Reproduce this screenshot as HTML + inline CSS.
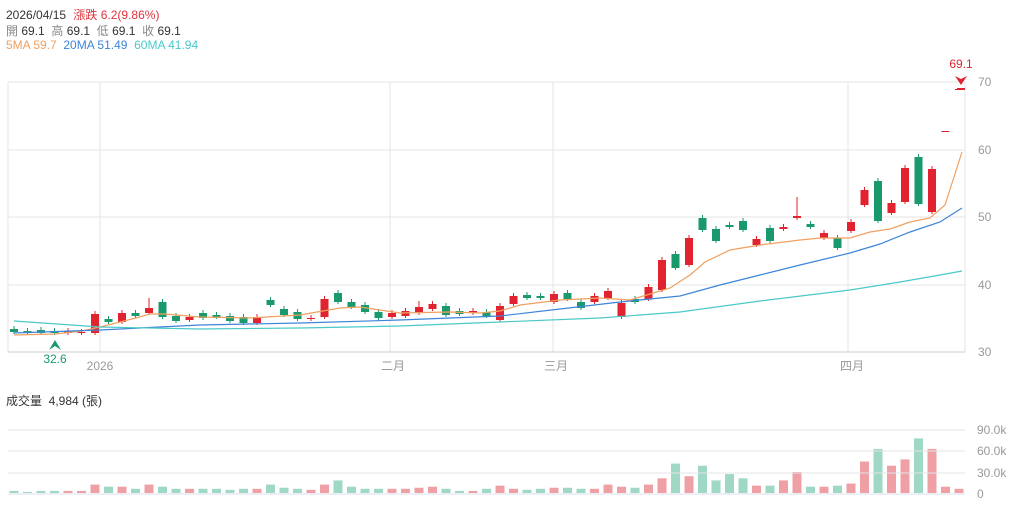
<!DOCTYPE html><html><head><meta charset="utf-8"><style>
body{margin:0;background:#fff;font-family:"Liberation Sans","Noto Sans CJK TC",sans-serif}
.t{position:absolute;font-size:12px;white-space:nowrap}
</style></head><body>
<div style="position:relative;width:1015px;height:508px;overflow:hidden">
<div class="t" style="left:6px;top:6px;color:#333">2026/04/15 <span style="color:#e0323c;margin-left:4px">漲跌 6.2(9.86%)</span></div>
<div class="t" style="left:6px;top:22px;color:#333"><span style="color:#888">開</span> 69.1 &nbsp;<span style="color:#888">高</span> 69.1 &nbsp;<span style="color:#888">低</span> 69.1 &nbsp;<span style="color:#888">收</span> 69.1</div>
<div class="t" style="left:6px;top:38px"><span style="color:#f0a060">5MA 59.7</span> &nbsp;<span style="color:#3d85d8">20MA 51.49</span> &nbsp;<span style="color:#4cc8c8">60MA 41.94</span></div>
<div class="t" style="left:6px;top:392px;color:#333">成交量 &nbsp;4,984 (張)</div>
<svg id="s" width="1015" height="508" style="position:absolute;left:0;top:0" font-family="Liberation Sans, Noto Sans CJK TC, sans-serif"></svg>
</div>
<script>
const S=document.getElementById('s');let h='';
[82,150,217,285].forEach(y=>h+=`<line x1="8" x2="965" y1="${y}" y2="${y}" stroke="#e6e6e6"/>`);
[100,390,553,848].forEach(x=>h+=`<line x1="${x}" x2="${x}" y1="82" y2="352" stroke="#e6e6e6"/>`);
h+=`<line x1="8" x2="8" y1="82" y2="352" stroke="#e6e6e6"/><line x1="965" x2="965" y1="82" y2="352" stroke="#e6e6e6"/><line x1="8" x2="965" y1="352" y2="352" stroke="#ccc"/>`;
[[70,82],[60,150],[50,217],[40,285],[30,352]].forEach(a=>h+=`<text x="978" y="${a[1]+4}" font-size="12" fill="#999">${a[0]}</text>`);
[["2026",100],["二月",393],["三月",556],["四月",852]].forEach(a=>h+=`<text x="${a[1]}" y="370" font-size="12" fill="#999" text-anchor="middle">${a[0]}</text>`);
const C=[['g',329,332],['g',331,333],['g',330,333],['g',331,333],['r',331,333],['r',332,333],['r',314,333],['g',319,322],['r',313,322],['g',313,316],['r',308,313,298],['g',302,317],['g',316,321],['r',317,320],['g',313,318],['g',315,317],['g',316,321],['g',317,323],['r',317,323],['g',300,305],['g',309,315],['g',312,319],['r',318,319],['r',299,317],['g',293,302],['g',302,307],['g',305,312],['g',312,318],['r',313,317],['r',311,316],['r',307,313,301],['r',304,309],['g',306,315],['g',311,314],['r',311,313],['g',312,316],['r',306,320],['r',296,304],['g',295,298],['g',296,298],['r',294,302],['g',293,299],['g',302,308],['r',296,302],['r',291,298],['r',303,317],['g',299,302],['r',287,299],['r',260,290],['g',254,268],['r',238,265],['g',218,230],['g',229,241],['g',225,227],['g',221,230],['r',239,245],['g',228,241],['r',227,229],['r',216,218,197],['g',224,227],['r',233,238],['g',238,248],['r',222,231],['r',190,205],['g',181,221],['r',203,213],['r',168,202],['g',157,204],['r',169,212],['r',131,132],['r',89,90]];
const V=[1,.5,1,1,1,1,4,3,3,2,4,3,2,2,2,2,1.5,2,2,4,2.5,2,1.5,4,6,3,2,2,2,2,2.5,3,2,1,1,2,3.5,2,1.5,2,2.5,2.5,2,2,4,3,2.5,4,7,14,8,13,6,9,7,3.5,3.5,6,10,3,3,3.5,4.5,15,21,13,16,26,21,3,2];
C.forEach((c,i)=>{const x=14+i*13.5,col=c[0]=='r'?'#e0232e':'#1a9a6c';const w=c[3]||c[1]-3;
if(i<69)h+=`<line x1="${x}" x2="${x}" y1="${Math.min(w,c[1]-2)}" y2="${c[2]+2}" stroke="${col}"/>`;
h+=`<rect x="${x-4}" y="${c[1]}" width="8" height="${Math.max(1,c[2]-c[1])}" fill="${col}"/>`;
const vh=V[i]*2.1;h+=`<rect x="${x-4.5}" y="${493-vh}" width="9" height="${vh}" fill="${c[0]=='r'?'#efa0a4':'#9fd8c4'}"/>`;});
const L=(p,c)=>h+=`<polyline fill="none" stroke="${c}" stroke-width="1.2" points="${p}"/>`;
L("14,335 55,334 82,331 100,327 136,318 150,314 165,314 200,317 250,318 300,315 340,308 360,307 380,310 400,313 450,312 480,313 500,311 520,305 560,300 600,298 630,300 650,294 670,288 690,275 705,262 730,250 760,245 800,240 820,238 850,238 870,232 890,229 910,222 930,218 945,205 962,152","#f0a060");
L("14,333 100,330 200,325 300,323 400,320 500,316 560,309 620,302 680,296 720,285 760,275 800,265 850,253 880,244 910,232 940,222 962,208","#3d85d8");
L("14,321 100,327 200,329 300,328 400,326 500,322 600,318 680,312 760,301 850,290 900,282 940,275 962,271","#4cc8c8");
h+=`<path d="M49,350 L55,340 L61,350 L55,346Z" fill="#1a9a6c"/><text x="55" y="363" font-size="12" fill="#1a9a6c" text-anchor="middle">32.6</text>`;
h+=`<text x="961" y="68" font-size="12" fill="#e0232e" text-anchor="middle">69.1</text><path d="M955,76 L961,85 L967,76 L961,79Z" fill="#e0232e"/><rect x="957" y="88" width="8" height="2" fill="#e0232e"/>`;
[430,451,473].forEach(y=>h+=`<line x1="8" x2="965" y1="${y}" y2="${y}" stroke="#e0e4e8"/>`);
h+=`<line x1="8" x2="965" y1="494" y2="494" stroke="#dde"/>`;
[["90.0k",430],["60.0k",451],["30.0k",473],["0",494]].forEach(a=>h+=`<text x="977" y="${a[1]+4}" font-size="12" fill="#999">${a[0]}</text>`);
S.innerHTML=h;
</script></body></html>
